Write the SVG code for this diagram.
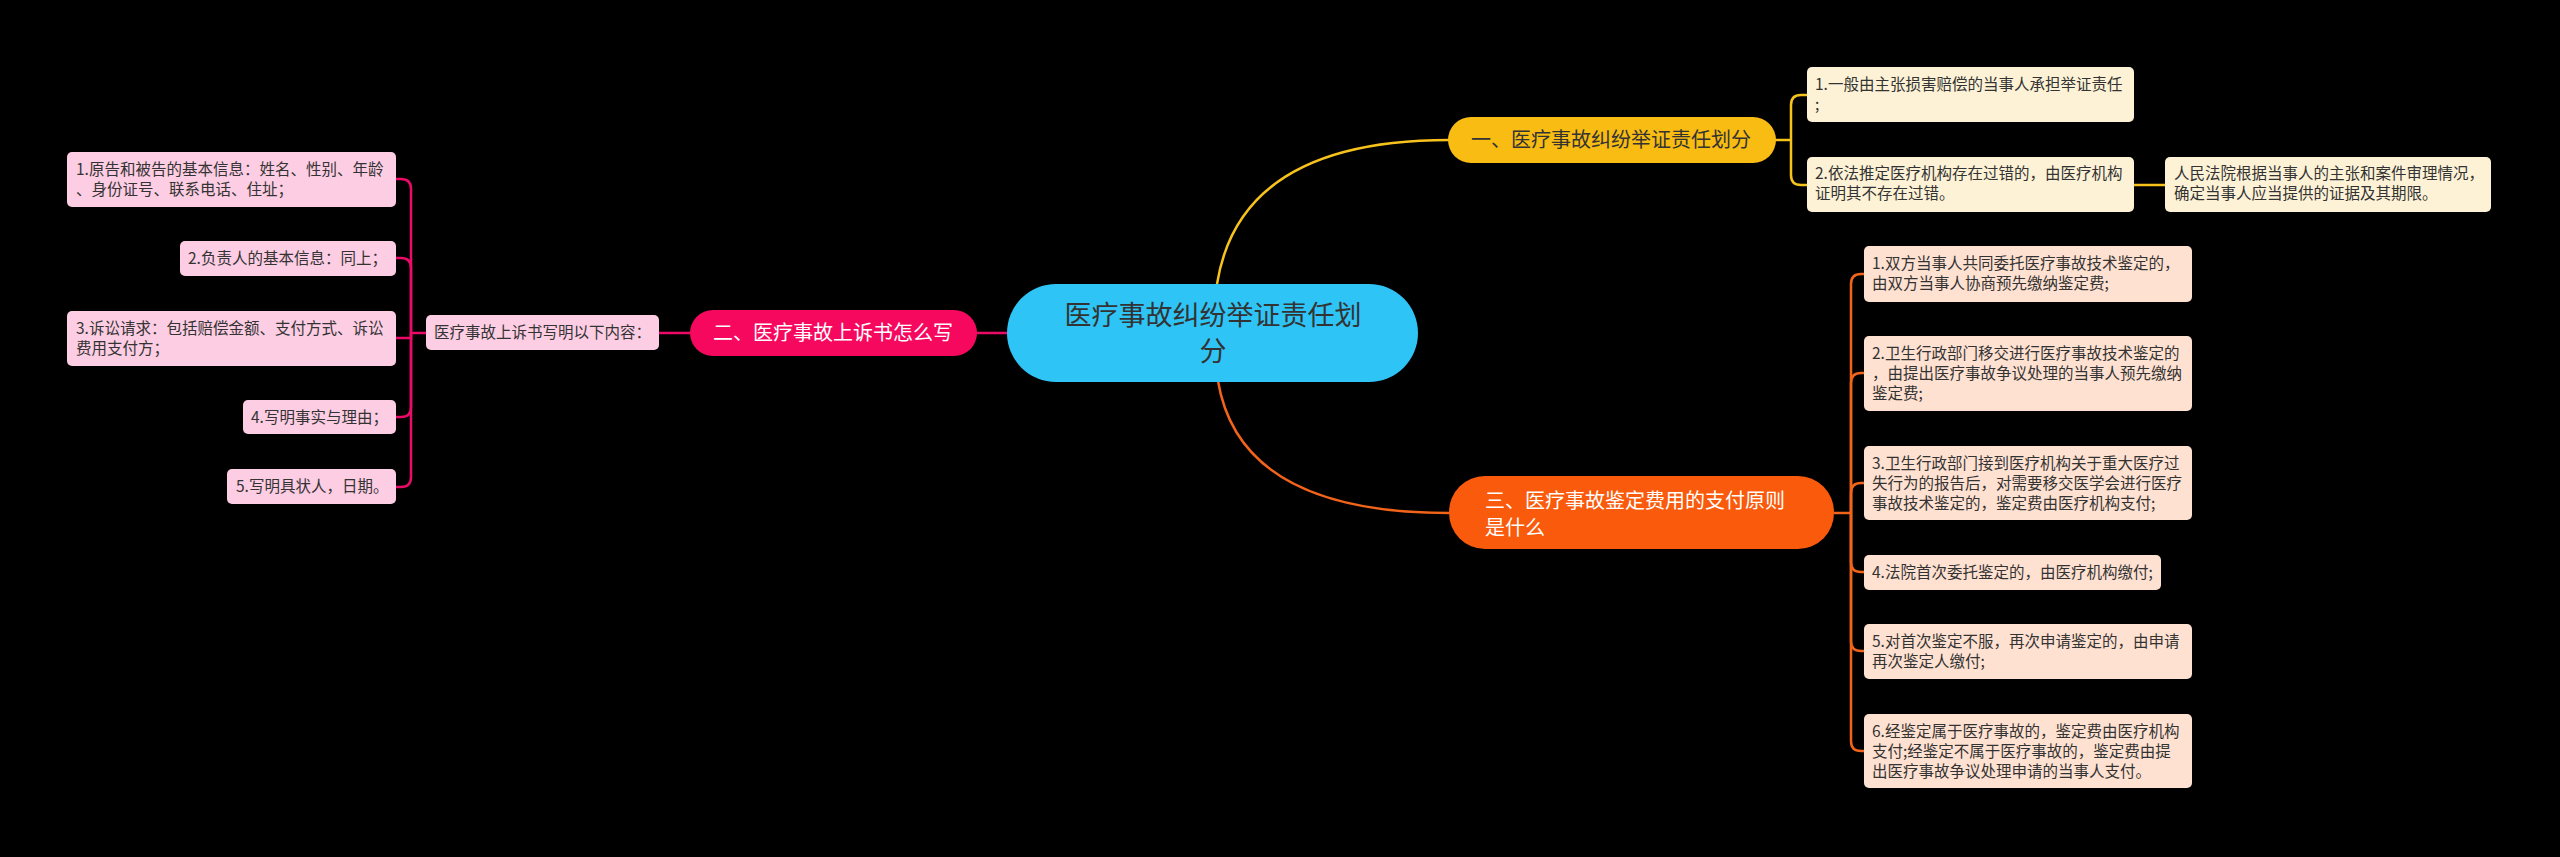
<svg xmlns="http://www.w3.org/2000/svg" width="2560" height="857" viewBox="0 0 2560 857">
<style>
text{font-family:"Noto Sans CJK SC","Noto Sans",sans-serif;}
.leaf{font-size:15.5px;fill:#333333;}
.br{font-size:20px;}
.cy{fill:none;stroke:#f7c21b;stroke-width:2.5;}
.cp{fill:none;stroke:#ec0a68;stroke-width:2.5;}
.co{fill:none;stroke:#f2641a;stroke-width:2.5;}
.ly{fill:#fdf2d6;}
.lp{fill:#fdcde3;}
.lo{fill:#ffe1d1;}
</style>
<rect width="2560" height="857" fill="#000000"/>
<g id="connectors">
<path class="cy" d="M1217,284 Q1240,140 1449,140"/>
<path class="co" d="M1218,381 Q1240,513 1449,513"/>
<path class="cp" d="M1008,333 H976"/>
<path class="cy" d="M1775,140 H1791"/>
<path class="cy" d="M1791,140 V105 Q1791,95 1801,95 H1808"/>
<path class="cy" d="M1791,140 V175 Q1791,185 1801,185 H1808"/>
<path class="cy" d="M2134,185 H2166"/>
<path class="cp" d="M690,333 H659"/>
<path class="cp" d="M426,333 H411"/>
<path class="cp" d="M411,333 V189 Q411,179 401,179 H396"/>
<path class="cp" d="M411,333 V268 Q411,258 401,258 H396"/>
<path class="cp" d="M411,333 V338 H396"/>
<path class="cp" d="M411,333 V407 Q411,417 401,417 H396"/>
<path class="cp" d="M411,333 V477 Q411,487 401,487 H396"/>
<path class="co" d="M1834,513 H1851"/>
<path class="co" d="M1851,513 V284 Q1851,274 1861,274 H1865"/>
<path class="co" d="M1851,513 V383 Q1851,373 1861,373 H1865"/>
<path class="co" d="M1851,513 V493 Q1851,483 1861,483 H1865"/>
<path class="co" d="M1851,513 V562 Q1851,572 1861,572 H1865"/>
<path class="co" d="M1851,513 V641 Q1851,651 1861,651 H1865"/>
<path class="co" d="M1851,513 V741 Q1851,751 1861,751 H1865"/>
</g>
<g id="center">
<rect x="1007" y="284" width="411" height="98" rx="49" fill="#2ec4f6"/>
<text x="1213" y="325" font-size="27" fill="#333333" text-anchor="middle">医疗事故纠纷举证责任划</text>
<text x="1213" y="361" font-size="27" fill="#333333" text-anchor="middle">分</text>
</g>
<g id="b1">
<rect x="1448" y="117" width="328" height="46" rx="23" fill="#f9bc12"/>
<text class="br" x="1471" y="147" fill="#333333">一、医疗事故纠纷举证责任划分</text>
</g>
<g id="b1-1">
<rect class="ly" x="1807" y="67" width="327" height="55" rx="5"/>
<text class="leaf" x="1815" y="90">1.一般由主张损害赔偿的当事人承担举证责任</text>
<text class="leaf" x="1815" y="110">;</text>
</g>
<g id="b1-2">
<rect class="ly" x="1807" y="157" width="327" height="55" rx="5"/>
<text class="leaf" x="1815" y="179">2.依法推定医疗机构存在过错的，由医疗机构</text>
<text class="leaf" x="1815" y="199">证明其不存在过错。</text>
</g>
<g id="b1-2-1">
<rect class="ly" x="2165" y="157" width="326" height="55" rx="5"/>
<text class="leaf" x="2174" y="179">人民法院根据当事人的主张和案件审理情况，</text>
<text class="leaf" x="2174" y="199">确定当事人应当提供的证据及其期限。</text>
</g>
<g id="b2">
<rect x="690" y="310" width="287" height="46" rx="23" fill="#f7085f"/>
<text class="br" x="713" y="340" fill="#ffffff">二、医疗事故上诉书怎么写</text>
</g>
<g id="b2-1">
<rect class="lp" x="426" y="315" width="233" height="35" rx="5"/>
<text class="leaf" x="434" y="338">医疗事故上诉书写明以下内容：</text>
</g>
<g id="b2-1-1">
<rect class="lp" x="67" y="152" width="329" height="55" rx="5"/>
<text class="leaf" x="76" y="175">1.原告和被告的基本信息：姓名、性别、年龄</text>
<text class="leaf" x="76" y="195">、身份证号、联系电话、住址；</text>
</g>
<g id="b2-1-2">
<rect class="lp" x="180" y="241" width="216" height="35" rx="5"/>
<text class="leaf" x="188" y="264">2.负责人的基本信息：同上；</text>
</g>
<g id="b2-1-3">
<rect class="lp" x="67" y="311" width="329" height="55" rx="5"/>
<text class="leaf" x="76" y="334">3.诉讼请求：包括赔偿金额、支付方式、诉讼</text>
<text class="leaf" x="76" y="354">费用支付方；</text>
</g>
<g id="b2-1-4">
<rect class="lp" x="243" y="400" width="153" height="34" rx="5"/>
<text class="leaf" x="251" y="423">4.写明事实与理由；</text>
</g>
<g id="b2-1-5">
<rect class="lp" x="227" y="469" width="169" height="35" rx="5"/>
<text class="leaf" x="236" y="492">5.写明具状人，日期。</text>
</g>
<g id="b3">
<rect x="1449" y="476" width="385" height="73" rx="36" fill="#fa5a0c"/>
<text class="br" x="1485" y="508" fill="#ffffff">三、医疗事故鉴定费用的支付原则</text>
<text class="br" x="1485" y="535" fill="#ffffff">是什么</text>
</g>
<g id="b3-1">
<rect class="lo" x="1864" y="246" width="328" height="56" rx="5"/>
<text class="leaf" x="1872" y="269">1.双方当事人共同委托医疗事故技术鉴定的，</text>
<text class="leaf" x="1872" y="289">由双方当事人协商预先缴纳鉴定费;</text>
</g>
<g id="b3-2">
<rect class="lo" x="1864" y="336" width="328" height="75" rx="5"/>
<text class="leaf" x="1872" y="359">2.卫生行政部门移交进行医疗事故技术鉴定的</text>
<text class="leaf" x="1872" y="379">，由提出医疗事故争议处理的当事人预先缴纳</text>
<text class="leaf" x="1872" y="399">鉴定费;</text>
</g>
<g id="b3-3">
<rect class="lo" x="1864" y="446" width="328" height="74" rx="5"/>
<text class="leaf" x="1872" y="469">3.卫生行政部门接到医疗机构关于重大医疗过</text>
<text class="leaf" x="1872" y="489">失行为的报告后，对需要移交医学会进行医疗</text>
<text class="leaf" x="1872" y="509">事故技术鉴定的，鉴定费由医疗机构支付;</text>
</g>
<g id="b3-4">
<rect class="lo" x="1864" y="555" width="297" height="35" rx="5"/>
<text class="leaf" x="1872" y="578">4.法院首次委托鉴定的，由医疗机构缴付;</text>
</g>
<g id="b3-5">
<rect class="lo" x="1864" y="624" width="328" height="55" rx="5"/>
<text class="leaf" x="1872" y="647">5.对首次鉴定不服，再次申请鉴定的，由申请</text>
<text class="leaf" x="1872" y="667">再次鉴定人缴付;</text>
</g>
<g id="b3-6">
<rect class="lo" x="1864" y="714" width="328" height="74" rx="5"/>
<text class="leaf" x="1872" y="737">6.经鉴定属于医疗事故的，鉴定费由医疗机构</text>
<text class="leaf" x="1872" y="757">支付;经鉴定不属于医疗事故的，鉴定费由提</text>
<text class="leaf" x="1872" y="777">出医疗事故争议处理申请的当事人支付。</text>
</g>
</svg>
